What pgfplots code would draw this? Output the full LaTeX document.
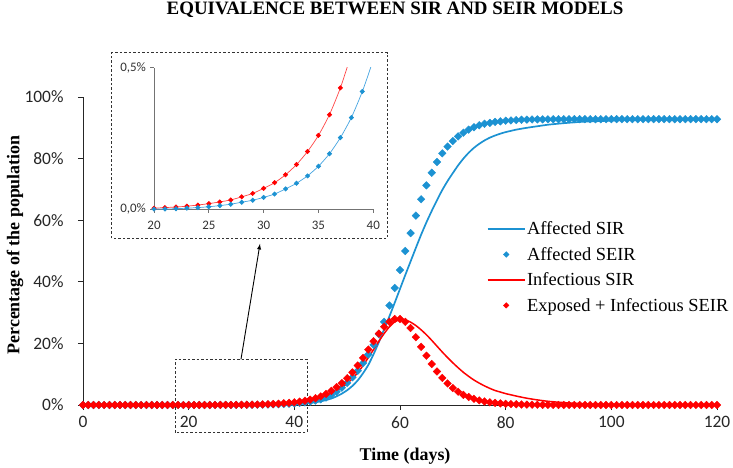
\documentclass[border=0pt]{standalone}
\usepackage{pgfplots}
\usepackage{pgfplotstable}
\pgfplotsset{compat=1.18}
\usepackage{fontspec}
\setmainfont{Liberation Serif}
\newfontfamily\calibri{Carlito}
\definecolor{cblue}{RGB}{28,146,210}
\definecolor{cred}{RGB}{255,0,0}
\definecolor{iblue}{RGB}{70,165,225}
\definecolor{ired}{RGB}{255,70,70}
\pgfplotsset{
  lineleg/.style={legend image code/.code={\draw[##1] (0bp,0bp) -- (37bp,0bp);}},
  markleg/.style={legend image code/.code={\draw[##1, mark size=2bp] plot coordinates {(18.5bp,0bp)};}},
}

% Affected SEIR (percent)
\pgfplotstableread{
d v
0 0.0001
1 0.0001
2 0.0001
3 0.0001
4 0.0001
5 0.0001
6 0.0002
7 0.0002
8 0.0002
9 0.0002
10 0.0002
11 0.0003
12 0.0003
13 0.0003
14 0.0003
15 0.0004
16 0.0004
17 0.0004
18 0.0005
19 0.0005
20 0.0006
21 0.001
22 0.002
23 0.004
24 0.006
25 0.009
26 0.013
27 0.018
28 0.025
29 0.032
30 0.042
31 0.054
32 0.072
33 0.092
34 0.118
35 0.152
36 0.196
37 0.253
38 0.324
39 0.416
40 0.53
41 0.68
42 0.87
43 1.11
44 1.42
45 1.85
46 2.45
47 3.25
48 4.3
49 5.6
50 7.2
51 9.0
52 11.1
53 13.6
54 16.4
55 19.5
56 23.0
57 27.0
58 32.3
59 38.0
60 43.8
61 50.0
62 55.8
63 61.5
64 66.8
65 71.3
66 75.4
67 78.9
68 81.7
69 83.9
70 85.7
71 87.2
72 88.4
73 89.4
74 90.2
75 90.8
76 91.3
77 91.6
78 91.9
79 92.1
80 92.3
81 92.4
82 92.5
83 92.6
84 92.65
85 92.7
86 92.72
87 92.74
88 92.75
89 92.76
90 92.77
91 92.78
92 92.78
93 92.79
94 92.79
95 92.8
96 92.8
97 92.8
98 92.8
99 92.8
100 92.8
101 92.8
102 92.8
103 92.8
104 92.8
105 92.8
106 92.8
107 92.8
108 92.8
109 92.8
110 92.8
111 92.8
112 92.8
113 92.8
114 92.8
115 92.8
116 92.8
117 92.8
118 92.8
119 92.8
120 92.8
}\affSEIR

% Exposed + Infectious SEIR (percent)
\pgfplotstableread{
d v
0 0.0010
1 0.0011
2 0.0012
3 0.0013
4 0.0014
5 0.0015
6 0.0016
7 0.0017
8 0.0018
9 0.0019
10 0.0020
11 0.0021
12 0.0022
13 0.0023
14 0.0024
15 0.0026
16 0.0028
17 0.0030
18 0.0032
19 0.0036
20 0.004
21 0.006
22 0.008
23 0.011
24 0.015
25 0.020
26 0.026
27 0.033
28 0.044
29 0.056
30 0.074
31 0.094
32 0.122
33 0.158
34 0.204
35 0.261
36 0.334
37 0.429
38 0.55
39 0.70
40 0.88
41 1.10
42 1.38
43 1.75
44 2.20
45 2.80
46 3.60
47 4.60
48 5.80
49 7.10
50 8.70
51 10.6
52 12.8
53 15.3
54 18.0
55 20.7
56 23.2
57 25.4
58 27.0
59 27.9
60 27.9
61 27.0
62 25.0
63 22.0
64 18.9
65 16.0
66 13.3
67 10.9
68 8.8
69 7.0
70 5.5
71 4.3
72 3.3
73 2.6
74 2.0
75 1.5
76 1.15
77 0.88
78 0.67
79 0.51
80 0.39
81 0.30
82 0.23
83 0.17
84 0.13
85 0.10
86 0.076
87 0.058
88 0.044
89 0.033
90 0.025
91 0.019
92 0.015
93 0.011
94 0.009
95 0.007
96 0.005
97 0.004
98 0.003
99 0.0023
100 0.0018
101 0.0014
102 0.0011
103 0.0008
104 0.0006
105 0.0005
106 0.0004
107 0.0003
108 0.0003
109 0.0002
110 0.0002
111 0.0002
112 0.0001
113 0.0001
114 0.0001
115 0.0001
116 0.0001
117 0.0001
118 0.0001
119 0.0001
120 0.0001
}\expSEIR

% Affected SIR (percent)
\pgfplotstableread{
d v
0 0
10 0.001
20 0.005
25 0.012
30 0.03
33 0.055
36 0.1
38 0.16
40 0.28
42 0.5
44 0.9
45 1.2
46 1.6
47 2.1
48 2.8
49 3.7
50 4.8
51 6.2
52 8.0
53 10.3
54 13.0
55 16.5
56 20.4
57 24.6
58 28.8
59 33.2
60 37.7
61 42.2
62 46.6
63 51.0
64 55.3
65 59.3
66 63.0
67 66.5
68 69.8
69 72.7
70 75.3
71 77.8
72 80.0
73 81.9
74 83.5
75 84.8
76 85.9
77 86.8
78 87.5
79 88.1
80 88.6
82 89.4
84 90.0
86 90.5
88 91.0
91 91.5
94 91.9
98 92.2
102 92.45
106 92.6
110 92.7
115 92.75
120 92.8
}\affSIR

% Infectious SIR (percent)
\pgfplotstableread{
d v
0 0.001
10 0.002
20 0.006
25 0.015
30 0.05
33 0.1
36 0.22
38 0.4
40 0.75
42 1.2
44 1.9
45 2.4
46 3.0
47 3.7
48 4.5
49 5.6
50 7.0
51 8.6
52 10.5
53 12.8
54 15.4
55 18.0
56 20.7
57 23.2
58 25.4
59 27.0
60 27.7
61 27.6
62 26.9
63 25.8
64 24.4
65 22.8
66 21.0
67 19.1
68 17.2
69 15.4
70 13.7
71 12.1
72 10.6
73 9.3
74 8.1
75 7.1
76 6.2
77 5.4
78 4.7
79 4.2
80 3.7
81 3.3
82 2.9
84 2.2
86 1.65
88 1.2
90 0.9
93 0.55
96 0.34
100 0.18
105 0.09
110 0.04
115 0.02
120 0.01
}\infSIR

\begin{document}
\begin{tikzpicture}
\useasboundingbox (-83bp,-63bp) rectangle (650bp,405bp);
\begin{axis}[
  at={(0bp,0bp)}, anchor=south west,
  scale only axis, width=634bp, height=308bp,
  xmin=0, xmax=120, ymin=0, ymax=100,
  clip=false,
  axis x line*=bottom, axis y line*=left,
  axis line style={-, black!85, line width=0.9bp},
  tick style={black!85, line width=0.9bp},
  tick align=outside, major tick length=5bp,
  xtick={0,20,40,60,80,100,120},
  ytick={0,20,40,60,80,100},
  xticklabel={\pgfmathprintnumber[assume math mode=true]{\tick}},
  yticklabel={\pgfmathprintnumber[assume math mode=true]{\tick}\%},
  tick label style={font=\calibri\fontsize{17.5}{20}\selectfont, black!85},
  yticklabel style={xshift=-11bp},
  xticklabel style={yshift=-3bp},
  xlabel={\bfseries Time (days)},
  ylabel={\bfseries Percentage of the population},
  label style={font=\fontsize{18}{22}\selectfont},
  xlabel style={at={(axis description cs:0.508,-0.166)}, anchor=center},
  ylabel style={at={(axis description cs:-0.107,0.52)}, anchor=center},
  legend style={at={(0.632,0.607)}, anchor=north west, draw=none, fill=none,
    font=\fontsize{18.5}{22}\selectfont, row sep=8bp,
    nodes={inner sep=1.5bp}},
  legend cell align=left,
]
\addplot[cblue, line width=1.7bp, smooth, tension=0.4, lineleg]
  table[x=d,y=v] {\affSIR};
\addlegendentry{Affected SIR}
\addplot[cblue, only marks, mark=square*, mark size=2.7bp,
  mark options={rotate=45, fill=cblue, draw=cblue}, markleg]
  table[x=d,y=v] {\affSEIR};
\addlegendentry{Affected SEIR}
\addplot[cred, line width=1.5bp, smooth, tension=0.4, lineleg]
  table[x=d,y=v] {\infSIR};
\addlegendentry{Infectious SIR}
\addplot[cred, only marks, mark=square*, mark size=2.7bp,
  mark options={rotate=45, fill=cred, draw=cred}, markleg]
  table[x=d,y=v] {\expSEIR};
\addlegendentry{Exposed + Infectious SEIR}
% zoom box and arrow
\draw[black!80, line width=0.8bp, dash pattern=on 2.5bp off 2bp]
  (axis cs:17.4,-8.8) rectangle (axis cs:42.4,14.8);
\draw[black, line width=0.9bp, -latex] (axis cs:29.9,14.8) -- (axis cs:33.5,52.3);
\end{axis}

% inset frame
\draw[black!80, line width=0.8bp, dash pattern=on 2.5bp off 2bp, fill=white]
  (28.7bp,166.7bp) rectangle (304.3bp,352.3bp);

\begin{axis}[
  at={(71bp,195.7bp)}, anchor=south west,
  scale only axis, width=219.3bp, height=141.6bp,
  xmin=20, xmax=40, ymin=0, ymax=0.5,
  restrict x to domain=20:41, restrict y to domain=-1:2,
  axis x line*=bottom, axis y line*=left,
  axis line style={-, black!55, line width=0.7bp},
  tick style={black!55, line width=0.7bp},
  tick align=outside, major tick length=3.5bp,
  xtick={20,25,30,35,40},
  ytick={0,0.5},
  yticklabels={{0,0\%},{0,5\%}},
  xticklabel={\pgfmathprintnumber[assume math mode=true]{\tick}},
  tick label style={font=\calibri\fontsize{13}{15}\selectfont, black!80},
  xticklabel style={yshift=-5bp},
  yticklabel style={xshift=-1bp},
]
\addplot[ired, line width=0.7bp, smooth, tension=0.4,
  mark=square*, mark size=1.5bp, mark options={rotate=45, fill=cred, draw=cred}]
  table[x=d,y=v] {\expSEIR};
\addplot[iblue, line width=0.7bp, smooth, tension=0.4,
  mark=square*, mark size=1.5bp, mark options={rotate=45, fill=cblue, draw=cblue}]
  table[x=d,y=v] {\affSEIR};
\end{axis}

\node[font=\bfseries\fontsize{19}{22}\selectfont] at (312bp,395bp)
  {EQUIVALENCE BETWEEN SIR AND SEIR MODELS};
\end{tikzpicture}
\end{document}
